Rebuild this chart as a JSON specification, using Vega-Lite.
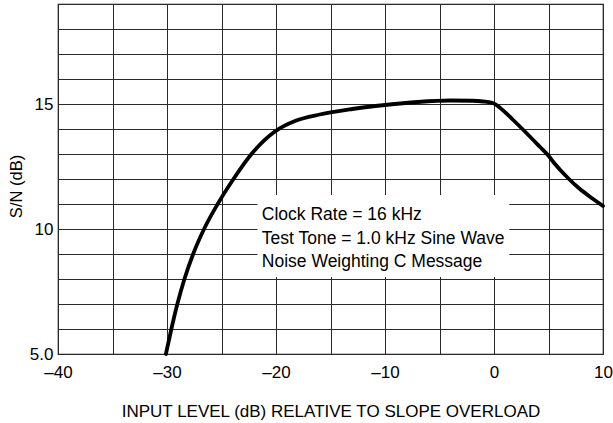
{
  "$schema": "https://vega.github.io/schema/vega-lite/v6.json",
  "width": 545,
  "height": 350,
  "autosize": {"type": "none"},
  "padding": {"left": 58, "top": 4, "right": 10, "bottom": 69},
  "background": "white",
  "config": {
    "view": {"stroke": "#111", "strokeWidth": 1.2},
    "font": "Liberation Sans",
    "axis": {
      "gridColor": "#2a2a2a",
      "gridWidth": 1,
      "gridOpacity": 1,
      "domain": false,
      "ticks": false,
      "tickSize": 0,
      "tickCount": 40,
      "labelColor": "#000",
      "titleColor": "#000",
      "labelFont": "Liberation Sans",
      "titleFont": "Liberation Sans",
      "labelFontSize": 17,
      "titleFontSize": 17,
      "titleFontWeight": "normal",
      "labelFlush": false,
      "labelOverlap": false
    }
  },
  "datasets": {
    "curve": [
      {"level": -30.1, "sn": 5},
      {"level": -29.6, "sn": 6},
      {"level": -29.05, "sn": 7},
      {"level": -28.4, "sn": 8},
      {"level": -27.6, "sn": 9},
      {"level": -26.6, "sn": 10},
      {"level": -25.35, "sn": 11},
      {"level": -23.9, "sn": 12},
      {"level": -22.25, "sn": 13},
      {"level": -20.1, "sn": 13.9},
      {"level": -18.2, "sn": 14.33},
      {"level": -16, "sn": 14.58},
      {"level": -13, "sn": 14.8},
      {"level": -10, "sn": 14.96},
      {"level": -7, "sn": 15.08},
      {"level": -4, "sn": 15.14},
      {"level": -2, "sn": 15.13},
      {"level": -1, "sn": 15.1},
      {"level": 0, "sn": 15.02},
      {"level": 0.55, "sn": 14.85},
      {"level": 1.76, "sn": 14.36},
      {"level": 2.97, "sn": 13.84},
      {"level": 4.18, "sn": 13.3},
      {"level": 5, "sn": 12.93},
      {"level": 5.5, "sn": 12.65},
      {"level": 6.76, "sn": 12.05},
      {"level": 7.8, "sn": 11.63},
      {"level": 9, "sn": 11.23},
      {"level": 10, "sn": 10.92}
    ],
    "box": [{"x1": -21.7, "x2": 1.4, "y1": 8.08, "y2": 11.36}],
    "notes": [
      {"x": -21.3, "y": 10.36, "t": "Clock Rate = 16 kHz"},
      {"x": -21.3, "y": 9.4, "t": "Test Tone = 1.0 kHz Sine Wave"},
      {"x": -21.3, "y": 8.48, "t": "Noise Weighting C Message"}
    ]
  },
  "layer": [
    {
      "data": {"name": "box"},
      "mark": {"type": "rect", "fill": "white", "stroke": null},
      "encoding": {
        "x": {
          "field": "x1", "type": "quantitative",
          "scale": {"domain": [-40, 10], "nice": false, "zero": false},
          "axis": {
            "values": [-40, -35, -30, -25, -20, -15, -10, -5, 0, 5, 10],
            "grid": true,
            "labelExpr": "datum.value % 10 == 0 ? (datum.value < 0 ? '\u2013' + abs(datum.value) : '' + datum.value) : ''",
            "labelPadding": 10,
            "title": "INPUT LEVEL (dB) RELATIVE TO SLOPE OVERLOAD",
            "titleBaseline": "alphabetic",
            "titleY": 62
          }
        },
        "x2": {"field": "x2"},
        "y": {
          "field": "y1", "type": "quantitative",
          "scale": {"domain": [5, 19], "nice": false, "zero": false},
          "axis": {
            "values": [5, 6, 7, 8, 9, 10, 11, 12, 13, 14, 15, 16, 17, 18, 19],
            "grid": true,
            "labelExpr": "datum.value == 5 ? '5.0' : (datum.value % 5 == 0 ? '' + datum.value : '')",
            "labelPadding": 5,
            "labelBaseline": "middle",
            "title": "S/N (dB)",
            "titleFontSize": 16.5,
            "titleAngle": 270,
            "titleBaseline": "middle",
            "titleX": -42,
            "titleY": 182
          }
        },
        "y2": {"field": "y2"}
      }
    },
    {
      "data": {"name": "curve"},
      "mark": {"type": "line", "color": "#000", "strokeWidth": 3.8, "interpolate": "monotone", "strokeCap": "round"},
      "encoding": {
        "x": {"field": "level", "type": "quantitative"},
        "y": {"field": "sn", "type": "quantitative"}
      }
    },
    {
      "data": {"name": "notes"},
      "mark": {"type": "text", "align": "left", "baseline": "alphabetic", "fontSize": 17.5, "font": "Liberation Sans", "color": "#000"},
      "encoding": {
        "x": {"field": "x", "type": "quantitative"},
        "y": {"field": "y", "type": "quantitative"},
        "text": {"field": "t"}
      }
    }
  ]
}
